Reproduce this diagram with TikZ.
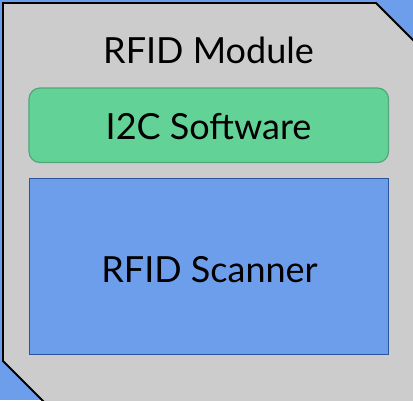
\documentclass[tikz,border=0pt]{standalone}
\usepackage{fontspec}
\setmainfont{Lato}
\definecolor{skyblue}{HTML}{6D9EEB}
\definecolor{panelgray}{HTML}{CCCCCC}
\definecolor{mint}{HTML}{63D297}
\definecolor{mintedge}{HTML}{4EA87A}
\definecolor{blueedge}{HTML}{2A559C}
\tikzset{
  label text/.style={font=\fontsize{36}{40}\selectfont, text=black, inner sep=0pt},
  soft box/.style={draw=mintedge, line width=1.2pt, fill=mint, rounded corners=11pt},
  scan box/.style={draw=blueedge, line width=1.5pt, fill=skyblue},
}
\begin{document}
\begin{tikzpicture}[x=1pt, y=-1pt]
  \useasboundingbox (0,0) rectangle (413,400);
  \clip (0,0) rectangle (413,400);
  \fill[skyblue] (0,0) rectangle (413,400);
  % module outline with two cut corners
  \draw[fill=panelgray, line width=1.8pt, line join=miter]
    (3,3) -- (376,3) -- (430,57) -- (430,430) -- (72,430) -- (3,361) -- cycle;
  \node[label text] (module) at (208.5,50) {RFID Module};
  \path[soft box] (29,88) rectangle (388.5,162.5);
  \node[label text] (software) at (208.5,126.5) {I2C Software};
  \path[scan box] (29.5,178.5) rectangle (388.5,354.5);
  \node[label text] (scanner) at (209.5,269.5) {RFID Scanner};
\end{tikzpicture}
\end{document}
